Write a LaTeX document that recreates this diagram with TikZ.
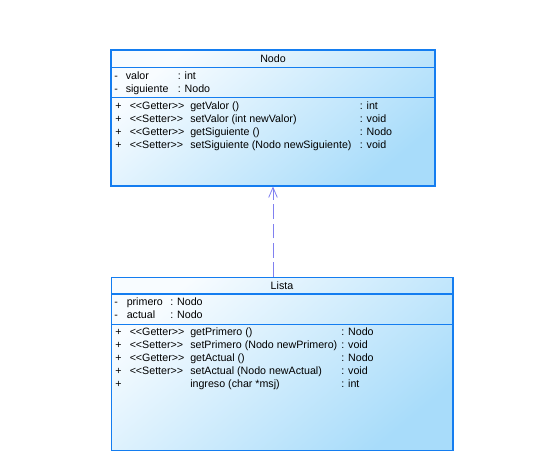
\documentclass[tikz,border=0pt]{standalone}
\usepackage{fontspec}
\setmainfont{Liberation Sans}
\usetikzlibrary{arrows.meta}
\definecolor{bordc}{RGB}{20,125,240}
\definecolor{lightc}{RGB}{248,252,255}
\definecolor{darkc}{RGB}{168,220,250}
\definecolor{arrc}{RGB}{128,128,240}
\tikzset{
  classbox/.style={top color=lightc, bottom color=darkc, shading angle=40},
  frame/.style={draw=bordc, line width=0.9pt},
  divline/.style={draw=bordc, line width=0.8pt},
  txt/.style={anchor=west, inner sep=0pt, text height=5.9pt, text depth=1.7pt, font=\fontsize{8}{9.5}\selectfont, text=black},
  ttl/.style={anchor=center, inner sep=0pt, text height=5.9pt, text depth=1.7pt, font=\fontsize{8}{9.5}\selectfont, text=black},
  depend/.style={draw=arrc, line width=0.6pt, dash pattern=on 11pt off 3.5pt, -{Straight Barb[length=7.5pt,width=6.5pt]}}
}
\begin{document}
\begin{tikzpicture}[x=0.75pt,y=-0.75pt]
\useasboundingbox (0,0) rectangle (533,472);
% Nodo
\path[classbox] (111,50) rectangle (435,186);
\coordinate (n1) at (111,67.5); \coordinate (n2) at (435,67.5);
\coordinate (n3) at (111,97.5); \coordinate (n4) at (435,97.5);
\draw[divline] (n1) -- (n2);
\draw[divline] (n3) -- (n4);
\draw[frame] (111,50) rectangle (435,186);
\node[ttl] (ntitle) at (273,59.5) {Nodo};
\node[txt] (na1) at (114,76.5) {-};
\node[txt] (na1n) at (125.5,76.5) {valor};
\node[txt] (na1t) at (177.5,76.5) {: int};
\node[txt] (na2) at (114,89.5) {-};
\node[txt] (na2n) at (125.5,89.5) {siguiente};
\node[txt] (na2t) at (177.5,89.5) {: Nodo};
\foreach \yy/\st/\nm/\rt [count=\i] in {106.5/Getter/{getValor ()}/{: int},
  119.5/Setter/{setValor (int newValor)}/{: void},
  132.5/Getter/{getSiguiente ()}/{: Nodo},
  145.5/Setter/{setSiguiente (Nodo newSiguiente)}/{: void}}{
  \node[txt] (nm\i p) at (115,\yy) {+};
  \node[txt] (nm\i s) at (129.5,\yy) {<{}<\st>{}>};
  \node[txt] (nm\i n) at (190,\yy) {\nm};
  \node[txt] (nm\i r) at (359.5,\yy) {\rt};
}
% Lista
\path[classbox] (111.5,277.5) rectangle (453,450.5);
\coordinate (l1) at (111.5,294); \coordinate (l2) at (453,294);
\coordinate (l3) at (111.5,324.5); \coordinate (l4) at (453,324.5);
\draw[divline] (l1) -- (l2);
\draw[divline] (l3) -- (l4);
\draw[frame] (111.5,277.5) rectangle (453,450.5);
\node[ttl] (ltitle) at (282,286.5) {Lista};
\node[txt] (la1) at (114,303) {-};
\node[txt] (la1n) at (126.5,303) {primero};
\node[txt] (la1t) at (170,303) {: Nodo};
\node[txt] (la2) at (114,316) {-};
\node[txt] (la2n) at (126.5,316) {actual};
\node[txt] (la2t) at (170,316) {: Nodo};
\foreach \yy/\st/\nm/\rt [count=\i] in {333/Getter/{getPrimero ()}/{: Nodo},
  346/Setter/{setPrimero (Nodo newPrimero)}/{: void},
  359/Getter/{getActual ()}/{: Nodo},
  372/Setter/{setActual (Nodo newActual)}/{: void}}{
  \node[txt] (lm\i p) at (115,\yy) {+};
  \node[txt] (lm\i s) at (129.5,\yy) {<{}<\st>{}>};
  \node[txt] (lm\i n) at (190,\yy) {\nm};
  \node[txt] (lm\i r) at (341,\yy) {\rt};
}
\node[txt] (lm5p) at (115,385) {+};
\node[txt] (lm5n) at (190,385) {ingreso (char *msj)};
\node[txt] (lm5r) at (341,385) {: int};
% dependency
\coordinate (atop) at (273,186.5);
\coordinate (abot) at (273,277);
\draw[depend] (abot) -- (atop);
\end{tikzpicture}
\end{document}
